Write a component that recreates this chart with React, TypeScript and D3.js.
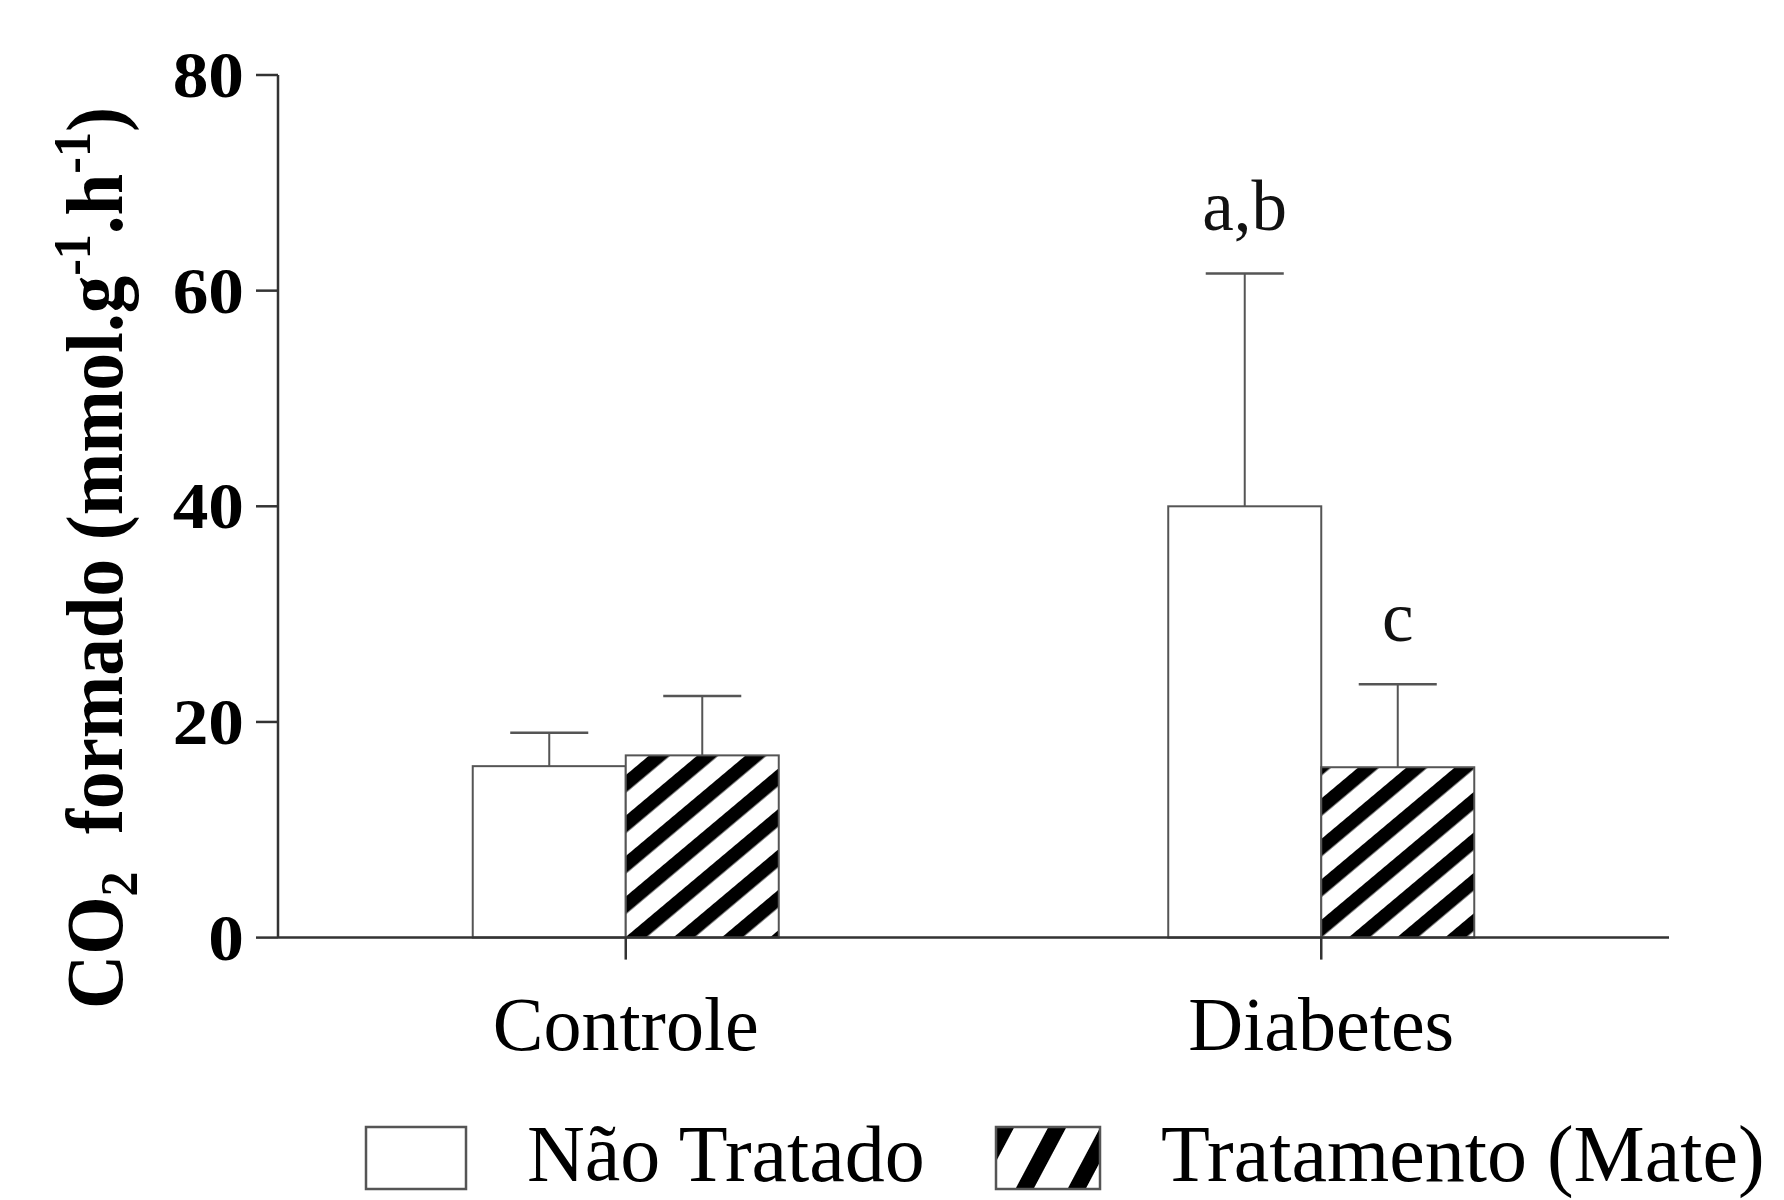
import React from "react";
import * as d3 from "d3";

const categories = ["Controle", "Diabetes"];
const seriesNames = ["Não Tratado", "Tratamento (Mate)"];
const naoTratado = [15.9, 40.0];
const naoTratadoErr = [3.1, 21.6];
const mate = [16.9, 15.8];
const mateErr = [5.5, 7.7];
const naoTratadoLabels = ["", "a,b"];
const mateLabels = ["", "c"];
const yTicks = [0, 20, 40, 60, 80];

const W = 1784;
const H = 1200;
const SERIF = "'Liberation Serif', 'Times New Roman', serif";

export default function App() {
  const y = d3.scaleLinear().domain([0, 80]).range([937.6, 75]);
  const x0 = d3
    .scaleBand<string>()
    .domain(categories)
    .range([278, 1669])
    .paddingInner(0.56)
    .paddingOuter(0.28);
  const x1 = d3.scaleBand<string>().domain(seriesNames).range([0, x0.bandwidth()]);
  const bw = x1.bandwidth();
  const capW = bw * 0.51;

  const series = [
    { name: seriesNames[0], values: naoTratado, errs: naoTratadoErr, labels: naoTratadoLabels, fill: "#ffffff" },
    { name: seriesNames[1], values: mate, errs: mateErr, labels: mateLabels, fill: "url(#hatch)" },
  ];

  const axisColor = "#333";
  const barStroke = "#555";

  return (
    <svg
      width={W}
      height={H}
      viewBox={`0 0 ${W} ${H}`}
      style={{ position: "absolute", left: 0, top: 0, background: "#fff" }}
    >
      <defs>
        <pattern id="hatch" patternUnits="userSpaceOnUse" width={31} height={31} patternTransform="rotate(50)">
          <rect x={0} y={0} width={31} height={31} fill="#fff" />
          <rect x={4} y={0} width={13.5} height={31} fill="#000" />
        </pattern>
        <pattern id="hatchLegend" patternUnits="userSpaceOnUse" width={46} height={46} patternTransform="translate(990,1126) rotate(28)">
          <rect x={0} y={0} width={46} height={46} fill="#fff" />
          <rect x={6} y={0} width={16} height={46} fill="#000" />
        </pattern>
      </defs>
      <rect x={0} y={0} width={W} height={H} fill="#fff" />

      {/* bars */}
      {series.map((s) =>
        categories.map((c, i) => {
          const bx = (x0(c) as number) + (x1(s.name) as number);
          const top = y(s.values[i]);
          const errTop = y(s.values[i] + s.errs[i]);
          const cx = bx + bw / 2;
          return (
            <g key={s.name + c}>
              <line x1={cx} x2={cx} y1={top} y2={errTop} stroke={barStroke} strokeWidth={2} />
              <line x1={cx - capW / 2} x2={cx + capW / 2} y1={errTop} y2={errTop} stroke={barStroke} strokeWidth={2.5} />
              <rect x={bx} y={top} width={bw} height={y(0) - top} fill={s.fill} stroke={barStroke} strokeWidth={2} />
              {s.labels[i] ? (
                <text
                  x={cx}
                  y={errTop - 43}
                  textAnchor="middle"
                  fontFamily={SERIF}
                  fontSize={71}
                  fill="#111"
                >
                  {s.labels[i]}
                </text>
              ) : null}
            </g>
          );
        })
      )}

      {/* y axis */}
      <line x1={278} x2={278} y1={y(0)} y2={y(80)} stroke={axisColor} strokeWidth={2.5} />
      {yTicks.map((t) => (
        <g key={t}>
          <line x1={256} x2={278} y1={y(t)} y2={y(t)} stroke={axisColor} strokeWidth={2.5} />
          <text
            transform={`translate(244, ${y(t) + 22}) scale(1.08,1)`}
            textAnchor="end"
            fontFamily={SERIF}
            fontWeight="bold"
            fontSize={66}
            fill="#000"
          >
            {t}
          </text>
        </g>
      ))}

      {/* x axis */}
      <line x1={278} x2={1669} y1={y(0)} y2={y(0)} stroke={axisColor} strokeWidth={2.5} />
      {categories.map((c) => {
        const cx = (x0(c) as number) + x0.bandwidth() / 2;
        return (
          <g key={c}>
            <line x1={cx} x2={cx} y1={y(0)} y2={y(0) + 22} stroke={axisColor} strokeWidth={2.5} />
            <text x={cx} y={1050} textAnchor="middle" fontFamily={SERIF} fontSize={76} fill="#000">
              {c}
            </text>
          </g>
        );
      })}

      {/* y title */}
      <text
        transform="translate(122, 558) rotate(-90) scale(1,1.06)"
        textAnchor="middle"
        fontFamily={SERIF}
        fontWeight="bold"
        fontSize={75}
        fill="#000"
      >
        CO
        <tspan fontSize={50} dy={14}>2</tspan>
        <tspan dy={-14}>{"\u00a0 formado (mmol.g"}</tspan>
        <tspan fontSize={50} dy={-30}>-1</tspan>
        <tspan dy={30}>.h</tspan>
        <tspan fontSize={50} dy={-30}>-1</tspan>
        <tspan dy={30}>)</tspan>
      </text>

      {/* legend */}
      <rect x={366} y={1127} width={100} height={62} fill="#fff" stroke={barStroke} strokeWidth={2.5} />
      <text x={527} y={1181} fontFamily={SERIF} fontSize={80} fill="#000">
        {seriesNames[0]}
      </text>
      <rect x={996} y={1127} width={104} height={62} fill="url(#hatchLegend)" stroke={barStroke} strokeWidth={2.5} />
      <text x={1161} y={1181} fontFamily={SERIF} fontSize={80} fill="#000">
        {seriesNames[1]}
      </text>
    </svg>
  );
}
